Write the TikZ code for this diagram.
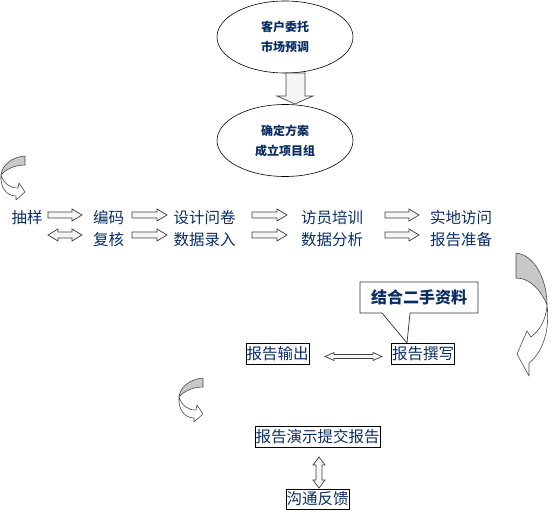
\documentclass[tikz,border=0pt]{standalone}
\usepackage{fontspec}
\newfontfamily\cjk{Noto Sans CJK SC}
\usetikzlibrary{shapes.geometric}
\definecolor{navy}{RGB}{10,45,100}
\definecolor{curlgray}{RGB}{200,200,200}
\tikzset{
  blk/.style={draw=black!75, fill=gray!8, line width=0.7pt, line join=miter},
  curl/.style={draw=black!70, line width=0.6pt, line join=round},
  oval/.style={ellipse, draw, line width=0.6pt, minimum width=136pt, minimum height=72pt,
    font=\cjk\bfseries\fontsize{12}{20}\selectfont, text=navy, align=center, inner sep=0pt},
  lbl/.style={font=\cjk\fontsize{15.5}{16}\selectfont, text=navy, inner sep=0pt},
  box/.style={lbl, draw, line width=0.6pt, inner xsep=0.5pt, inner ysep=2.5pt,
    text height=13pt, text depth=2.5pt},
  curlpic/.pic={
    \draw[curl, fill=curlgray] (25,0) .. controls (12,1) and (2,9) .. (1,19)
      .. controls (5,14) and (14,9) .. (25,9) -- cycle;
    \draw[curl, fill=white] (1,19) .. controls (0,32) and (7,40) .. (16,40)
      -- (16,44) -- (25,36) -- (19,27) -- (18,32)
      .. controls (10,32) and (4,28) .. (1,19) -- cycle;
  }
}
% right block arrow: x1 x2 y
\newcommand\rarrow[3]{\draw[blk] (#1,#3-3)--(#2-10,#3-3)--(#2-10,#3-6)--(#2,#3)--(#2-10,#3+6)--(#2-10,#3+3)--(#1,#3+3)--cycle;}
% double block arrow: x1 x2 y shaft-half head-half head-length
\newcommand\lrarrow[6]{\draw[blk] (#1,#3)--(#1+#6,#3-#5)--(#1+#6,#3-#4)--(#2-#6,#3-#4)--(#2-#6,#3-#5)--(#2,#3)--(#2-#6,#3+#5)--(#2-#6,#3+#4)--(#1+#6,#3+#4)--(#1+#6,#3+#5)--cycle;}
\begin{document}
\begin{tikzpicture}[x=1pt,y=-1pt]
\useasboundingbox (0,0) rectangle (553,511);

% ellipses
\node[oval] (e1) at (285,37) {客户委托\\市场预调};
\node[oval] (e2) at (285,140.5) {确定方案\\成立项目组};
\draw[blk] (286,73)--(305,73)--(305,96)--(313,96)--(295,104)--(277,96)--(286,96)--cycle;

% left curl
\pic at (0,156) {curlpic};

% row 1
\node[lbl] (a1) at (27,218) {抽样};
\node[lbl] (a2) at (108.5,218) {编码};
\node[lbl] (a3) at (204.5,218) {设计问卷};
\node[lbl] (a4) at (332,218) {访员培训};
\node[lbl] (a5) at (461,218) {实地访问};
\rarrow{48}{82}{215}
\rarrow{132}{167}{215}
\rarrow{252}{287}{215}
\rarrow{385}{419}{215}

% row 2
\node[lbl] (b2) at (108.5,239.5) {复核};
\node[lbl] (b3) at (204.5,239.5) {数据录入};
\node[lbl] (b4) at (332,239.5) {数据分析};
\node[lbl] (b5) at (461,239.5) {报告准备};
\lrarrow{48}{82}{235}{3}{6}{10}
\rarrow{132}{167}{235}
\rarrow{252}{287}{235}
\rarrow{385}{419}{235}

% right curved arrow
\draw[curl, fill=curlgray] (516,253) .. controls (535,255) and (547,280) .. (547,305)
  .. controls (541,290) and (530,278) .. (516,278) -- cycle;
\draw[curl, fill=white] (547,305) .. controls (546,320) and (540,330) .. (531,337)
  -- (527,331) -- (517,354) -- (529,376) -- (529,363)
  .. controls (543,352) and (550,330) .. (547,305) -- cycle;

% callout
\draw[line width=0.7pt, draw=black!80, fill=white]
  (360,282) -- (478,282) -- (478,313) -- (410,313) -- (407,343) -- (382,313) -- (360,313) -- cycle;
\node[lbl, font=\cjk\bfseries\fontsize{16}{16}\selectfont] (c) at (419,297.5) {结合二手资料};

% report boxes
\node[box] (r1) at (277.5,354) {报告输出};
\node[box] (r2) at (423,354) {报告撰写};
\lrarrow{325}{382}{356.5}{2}{4}{9}

% small curl
\begin{scope}[shift={(178,378)}, xscale=1.08]
  \pic at (0,0) {curlpic};
\end{scope}

\node[box] (r3) at (317.5,437) {报告演示提交报告};
\node[box] (r4) at (317.5,499.5) {沟通反馈};
\draw[blk] (319,457)--(325,465)--(322,465)--(322,480)--(325,480)--(319,488)--(313,480)--(316,480)--(316,465)--(313,465)--cycle;
\end{tikzpicture}
\end{document}
